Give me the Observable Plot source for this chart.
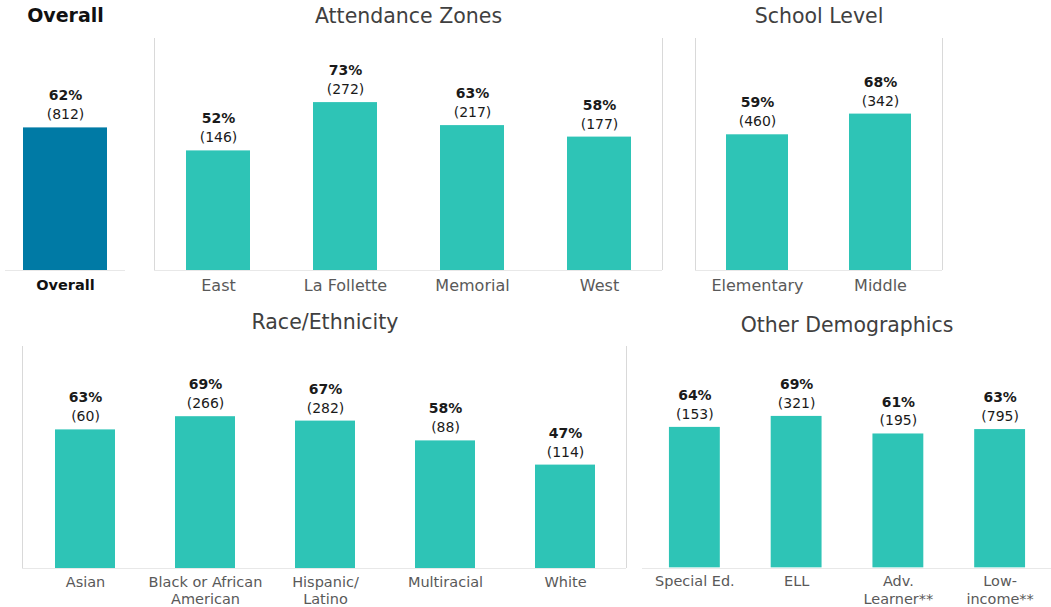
<!DOCTYPE html>
<html><head><meta charset="utf-8">
<script src="https://cdn.jsdelivr.net/npm/d3@7"></script>
<script src="https://cdn.jsdelivr.net/npm/@observablehq/plot@0.6"></script>
<style>
body{margin:0;background:#fff;}
#root{position:relative;width:1051px;height:607px;overflow:hidden;font-family:"DejaVu Sans",sans-serif;background:#fff;}
.panel{position:absolute;}
.vline{position:absolute;width:1px;background:#d9d9d9;}
.hline{position:absolute;height:1px;background:#e8e8e8;}
</style></head><body><div id="root"></div>
<script>
// ---- data ----
const overallCats = ["Overall"];
const overallPct = [62];
const overallN = [812];

const zoneCats = ["East", "La Follette", "Memorial", "West"];
const zonePct = [52, 73, 63, 58];
const zoneN = [146, 272, 217, 177];

const levelCats = ["Elementary", "Middle"];
const levelPct = [59, 68];
const levelN = [460, 342];

const raceCats = ["Asian", "Black or African American", "Hispanic/ Latino", "Multiracial", "White"];
const raceTicks = ["Asian", "Black or African\nAmerican", "Hispanic/\nLatino", "Multiracial", "White"];
const racePct = [63, 69, 67, 58, 47];
const raceN = [60, 266, 282, 88, 114];

const otherCats = ["Special Ed.", "ELL", "Adv. Learner**", "Low-income**"];
const otherTicks = ["Special Ed.", "ELL", "Adv.\nLearner**", "Low-\nincome**"];
const otherPct = [64, 69, 61, 63];
const otherN = [153, 321, 195, 795];

const TEAL = "#2ec4b6", BLUE = "#007aa5";
const root = document.getElementById("root");

function deco(cls, l, t, w, h) {
  const d = document.createElement("div");
  d.className = cls;
  d.style.left = l + "px"; d.style.top = t + "px";
  if (w != null) d.style.width = w + "px";
  if (h != null) d.style.height = h + "px";
  root.appendChild(d);
}
// faint panel separators and baselines
[154, 662, 695, 942].forEach(x => deco("vline", x, 38, null, 232));
deco("hline", 5, 270, 120); deco("hline", 154, 270, 508); deco("hline", 695, 270, 247);
[22, 626].forEach(x => deco("vline", x, 346, null, 222));
deco("hline", 22, 568, 604); deco("hline", 642, 568, 409);

function panel(o) {
  const ticks = o.ticks || o.cats;
  const data = o.cats.map((c, i) => ({c, t: ticks[i], p: o.pct[i], n: o.n[i]}));
  const tickMap = new Map(data.map(d => [d.c, d.t]));
  const plot = Plot.plot({
    width: o.width, height: o.height,
    marginLeft: 0, marginRight: 0, marginTop: o.mt, marginBottom: o.mb,
    style: {background: "transparent", overflow: "visible", fontFamily: "'DejaVu Sans', sans-serif"},
    x: {domain: o.cats, paddingInner: o.pi, paddingOuter: o.po},
    y: {domain: [0, 100], axis: null},
    marks: [
      Plot.barY(data, {x: "c", y: "p", fill: o.fill}),
      Plot.axisX({tickSize: 0, tickPadding: o.tickPad, fontSize: o.tickSize, color: o.tickColor,
        fontWeight: o.tickWeight, lineHeight: 1.2, tickFormat: d => tickMap.get(d), label: null}),
      Plot.text(data, {x: "c", y: "p", text: d => d.p + "%", dy: -32, fontSize: 14, fontWeight: "bold", fill: "#1a1a1a"}),
      Plot.text(data, {x: "c", y: "p", text: d => `(${d.n})`, dy: -13, fontSize: 14, fill: "#1a1a1a"}),
      Plot.text([o.title], {frameAnchor: "top", dy: o.titleDy, fontSize: o.titleSize, fontWeight: o.titleWeight, fill: o.titleColor})
    ]
  });
  const wrap = document.createElement("div");
  wrap.className = "panel";
  wrap.style.left = o.left + "px"; wrap.style.top = o.top + "px";
  wrap.appendChild(plot);
  root.appendChild(wrap);
}

const topRow = {top: 0, height: 300, mt: 40, mb: 30, tickSize: 16, tickPad: 7, tickColor: "#595959", tickWeight: "normal", titleDy: -32, titleSize: 20.5, titleWeight: "normal", titleColor: "#404040", fill: TEAL, pi: 0.5, po: 0.25};
const botRow = {top: 300, height: 307, mt: 48, mb: 39, tickSize: 14.5, tickPad: 6, tickColor: "#595959", tickWeight: "normal", titleSize: 20.5, titleWeight: "normal", titleColor: "#404040", fill: TEAL, pi: 0.5, po: 0.25};

panel({...topRow, title: "Overall", cats: overallCats, pct: overallPct, n: overallN, left: 5, width: 120,
  fill: BLUE, pi: 0.3, po: 0.15, tickColor: "#111", tickWeight: "bold", tickSize: 14.5,
  titleWeight: "bold", titleColor: "#111", titleSize: 19});
panel({...topRow, title: "Attendance Zones", cats: zoneCats, pct: zonePct, n: zoneN, left: 154, width: 508});
panel({...topRow, title: "School Level", cats: levelCats, pct: levelPct, n: levelN, left: 695, width: 247});
panel({...botRow, title: "Race/Ethnicity", cats: raceCats, ticks: raceTicks, pct: racePct, n: raceN, left: 24, width: 601, titleDy: -34});
panel({...botRow, title: "Other Demographics", cats: otherCats, ticks: otherTicks, pct: otherPct, n: otherN, left: 642, width: 410, titleDy: -31});
</script></body></html>
